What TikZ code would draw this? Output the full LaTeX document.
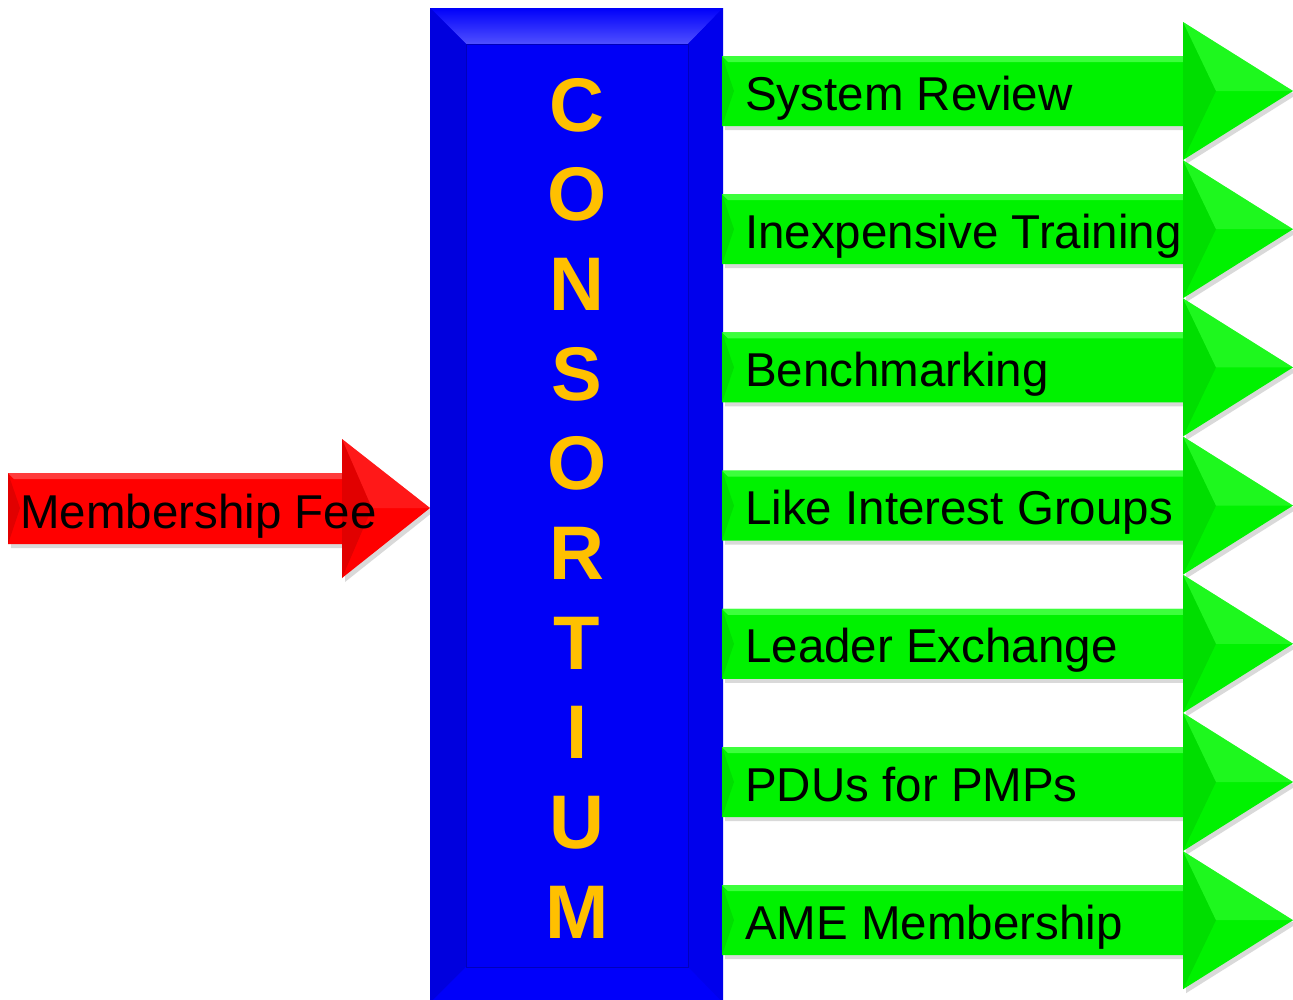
\documentclass[tikz,border=0pt]{standalone}
\usepackage{fontspec}
\setmainfont{Liberation Sans}
\usetikzlibrary{calc}
\definecolor{boxblue}{RGB}{0,0,246}
\definecolor{bevelblue}{RGB}{0,0,250}
\definecolor{toplight}{RGB}{80,80,255}
\definecolor{sidedark}{RGB}{0,0,222}
\definecolor{sidemid}{RGB}{0,0,236}
\definecolor{letterorange}{RGB}{255,192,0}
\definecolor{benefitgreen}{RGB}{0,242,0}
\definecolor{greenlight}{RGB}{60,255,60}
\definecolor{greendark}{RGB}{0,222,0}
\definecolor{feered}{RGB}{255,0,0}
\definecolor{redlight}{RGB}{255,60,60}
\definecolor{reddark}{RGB}{225,0,0}

\begin{document}
\begin{tikzpicture}[
    x=1pt, y=-1pt,
    arrow shadow/.style={fill=black, opacity=0.15},
    label text/.style={font=\fontsize{47.5}{48}\selectfont, text=black,
        inner sep=0pt, anchor=base west},
    letter/.style={font=\fontsize{76}{76}\selectfont\bfseries,
        text=letterorange, inner sep=0pt, anchor=base}
    ]
    \useasboundingbox (0,0) rectangle (1293,999);
    % Membership fee arrow
    \fill[arrow shadow] (11,477) -- (345,477) -- (345,443) -- (433,512)
        -- (345,582) -- (345,548) -- (11,548) -- cycle;
    \fill[feered] (8,473) -- (342,473) -- (342,439) -- (430,508)
        -- (342,578) -- (342,544) -- (8,544) -- cycle;
    \fill[redlight] (8,473) -- (342,473) -- (342,479) -- (14,479) -- cycle;
    \fill[reddark] (8,473) -- (20,508) -- (8,544) -- cycle;
    \fill[reddark] (342,439) -- (372,508) -- (342,578) -- cycle;
    \fill[redlight, opacity=0.4] (342,439) -- (430,508) -- (372,508) -- cycle;
    \node[label text] (fee) at (20,528) {Membership Fee};
    % Box
    \node[fill=boxblue, inner sep=0pt, minimum width=293, minimum height=995,
        anchor=north west] (consortium) at (430,8) {};
    \shade[top color=bevelblue, bottom color=toplight] (430,8) -- (723,8)
        -- (688,44) -- (466,44) -- cycle;
    \fill[sidedark] (430,8) -- (466,44) -- (466,967) -- (430,1003) -- cycle;
    \fill[sidemid] (723,8) -- (688,44) -- (688,967) -- (723,1003) -- cycle;
    \fill[bevelblue] (430,1003) -- (466,967) -- (688,967) -- (723,1003) -- cycle;
    \draw[bevelblue!75!black, thin] (466,44) rectangle (688,967);
    % Letters
    \foreach \l [count=\i from 0] in {C,O,N,S,O,R,T,I,U,M}
        \node[letter] (letter-\i) at (577,{131+89.7*\i}) {\l};
    % Benefit arrows
    \foreach \txt [count=\i from 0] in {System Review, Inexpensive Training,
        Benchmarking, Like Interest Groups, Leader Exchange, PDUs for PMPs,
        AME Membership}
    {
        \pgfmathsetmacro{\cy}{91+138.2*\i}
        \fill[arrow shadow] (725,\cy-31) -- (1186,\cy-31) -- (1186,\cy-65)
            -- (1296,\cy+4) -- (1186,\cy+73) -- (1186,\cy+39)
            -- (725,\cy+39) -- cycle;
        \fill[benefitgreen] (722,\cy-35) -- (1183,\cy-35) -- (1183,\cy-69)
            -- (1293,\cy) -- (1183,\cy+69) -- (1183,\cy+35)
            -- (722,\cy+35) -- cycle;
        \fill[greenlight] (722,\cy-35) -- (1183,\cy-35) -- (1183,\cy-29)
            -- (728,\cy-29) -- cycle;
        \fill[greendark] (722,\cy-35) -- (734,\cy) -- (722,\cy+35) -- cycle;
        \fill[greendark] (1183,\cy-69) -- (1216,\cy) -- (1183,\cy+69) -- cycle;
        \fill[greenlight, opacity=0.5] (1183,\cy-69) -- (1293,\cy)
            -- (1216,\cy) -- cycle;
        \node[label text] (benefit-\i) at (745,\cy+19) {\txt};
    }
\end{tikzpicture}
\end{document}
